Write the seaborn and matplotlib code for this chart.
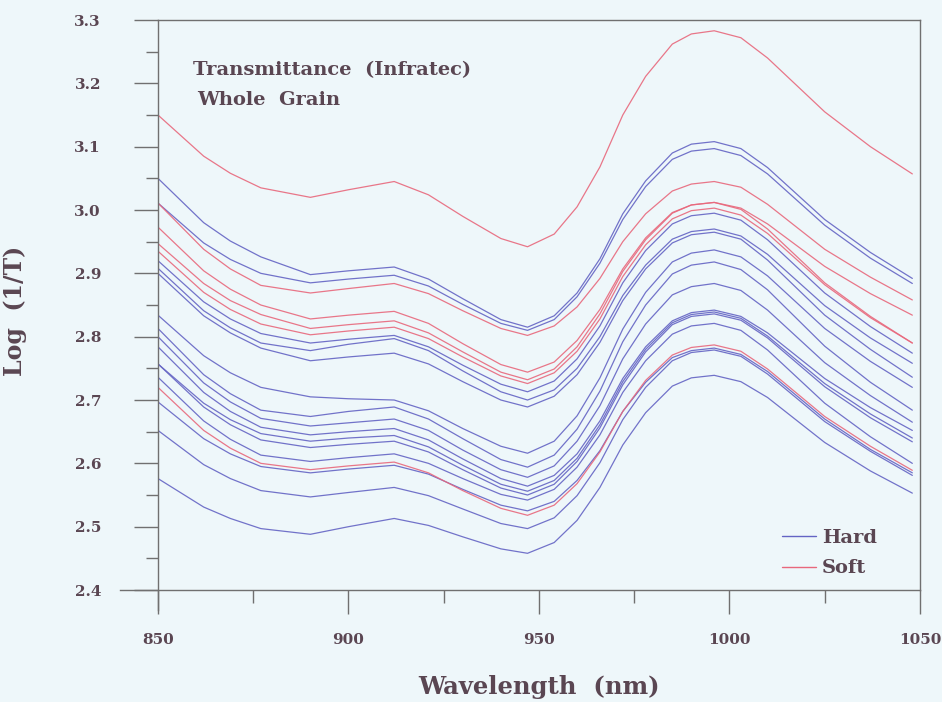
import numpy as np
import pandas as pd
import matplotlib
matplotlib.use("Agg")
import matplotlib.pyplot as plt
import seaborn as sns
from matplotlib.ticker import MultipleLocator, FormatStrFormatter
from matplotlib.lines import Line2D

# sampled wavelengths (nm)
wavelengths = [850, 862, 869, 877, 890, 900, 912, 921, 930, 940, 947, 954,
               960, 966, 972, 978, 985, 990, 996, 1003, 1010, 1025, 1037, 1048]

# Soft wheat spectra, log(1/T)
soft_1 = [3.150, 3.085, 3.058, 3.035, 3.020, 3.032, 3.045, 3.024, 2.990, 2.955, 2.942, 2.962,
          3.005, 3.068, 3.150, 3.211, 3.262, 3.278, 3.283, 3.272, 3.240, 3.155, 3.100, 3.057]
soft_2 = [3.011, 2.938, 2.907, 2.881, 2.869, 2.876, 2.884, 2.868, 2.841, 2.813, 2.802, 2.817,
          2.847, 2.892, 2.950, 2.994, 3.030, 3.041, 3.045, 3.036, 3.009, 2.938, 2.894, 2.858]
soft_3 = [2.973, 2.904, 2.875, 2.850, 2.828, 2.834, 2.840, 2.821, 2.789, 2.756, 2.744, 2.760,
          2.794, 2.843, 2.907, 2.956, 2.996, 3.008, 3.012, 3.003, 2.978, 2.911, 2.868, 2.834]
soft_4 = [2.947, 2.884, 2.857, 2.835, 2.813, 2.819, 2.825, 2.806, 2.776, 2.744, 2.732, 2.749,
          2.784, 2.836, 2.903, 2.953, 2.995, 3.008, 3.012, 3.001, 2.970, 2.885, 2.832, 2.790]
soft_5 = [2.935, 2.870, 2.843, 2.820, 2.803, 2.809, 2.815, 2.797, 2.768, 2.738, 2.726, 2.743,
          2.777, 2.828, 2.895, 2.945, 2.986, 2.999, 3.003, 2.992, 2.963, 2.882, 2.830, 2.790]
soft_6 = [2.720, 2.652, 2.624, 2.600, 2.590, 2.596, 2.602, 2.585, 2.557, 2.529, 2.518, 2.534,
          2.568, 2.618, 2.682, 2.731, 2.771, 2.783, 2.787, 2.777, 2.749, 2.674, 2.627, 2.589]

# Hard wheat spectra, log(1/T)
hard_1 = [3.050, 2.980, 2.951, 2.926, 2.898, 2.904, 2.910, 2.891, 2.860, 2.827, 2.815, 2.833,
          2.869, 2.923, 2.994, 3.046, 3.090, 3.104, 3.108, 3.097, 3.067, 2.985, 2.933, 2.892]
hard_2 = [3.011, 2.948, 2.922, 2.900, 2.885, 2.891, 2.897, 2.880, 2.851, 2.821, 2.810, 2.827,
          2.863, 2.916, 2.985, 3.037, 3.080, 3.093, 3.097, 3.086, 3.057, 2.976, 2.924, 2.884]
hard_3 = [2.920, 2.855, 2.828, 2.805, 2.790, 2.796, 2.802, 2.784, 2.755, 2.725, 2.713, 2.730,
          2.765, 2.817, 2.885, 2.936, 2.978, 2.991, 2.995, 2.984, 2.953, 2.869, 2.816, 2.774]
hard_4 = [2.908, 2.841, 2.814, 2.790, 2.778, 2.788, 2.797, 2.778, 2.746, 2.713, 2.700, 2.716,
          2.750, 2.800, 2.865, 2.913, 2.954, 2.966, 2.970, 2.959, 2.930, 2.849, 2.798, 2.758]
hard_5 = [2.900, 2.833, 2.806, 2.782, 2.762, 2.768, 2.774, 2.757, 2.729, 2.700, 2.689, 2.706,
          2.740, 2.791, 2.857, 2.907, 2.948, 2.961, 2.965, 2.954, 2.921, 2.834, 2.780, 2.736]
hard_6 = [2.834, 2.770, 2.743, 2.720, 2.705, 2.702, 2.700, 2.683, 2.655, 2.627, 2.616, 2.635,
          2.675, 2.735, 2.812, 2.870, 2.918, 2.932, 2.937, 2.926, 2.896, 2.813, 2.761, 2.720]
hard_7 = [2.813, 2.740, 2.710, 2.684, 2.674, 2.682, 2.689, 2.670, 2.639, 2.606, 2.594, 2.613,
          2.654, 2.714, 2.792, 2.850, 2.899, 2.913, 2.918, 2.906, 2.874, 2.785, 2.728, 2.684]
hard_8 = [2.800, 2.727, 2.697, 2.671, 2.659, 2.664, 2.670, 2.652, 2.621, 2.590, 2.578, 2.596,
          2.635, 2.691, 2.765, 2.820, 2.866, 2.879, 2.884, 2.873, 2.842, 2.759, 2.707, 2.665]
hard_9 = [2.784, 2.712, 2.682, 2.657, 2.645, 2.650, 2.655, 2.637, 2.607, 2.576, 2.564, 2.581,
          2.615, 2.667, 2.734, 2.784, 2.825, 2.838, 2.842, 2.832, 2.806, 2.734, 2.688, 2.652]
hard_10 = [2.757, 2.695, 2.669, 2.647, 2.635, 2.640, 2.644, 2.626, 2.597, 2.567, 2.556, 2.573,
           2.608, 2.661, 2.729, 2.780, 2.822, 2.835, 2.839, 2.829, 2.801, 2.726, 2.678, 2.640]
hard_11 = [2.757, 2.689, 2.661, 2.637, 2.625, 2.630, 2.635, 2.618, 2.590, 2.561, 2.550, 2.567,
           2.603, 2.656, 2.724, 2.776, 2.819, 2.832, 2.836, 2.826, 2.798, 2.721, 2.672, 2.634]
hard_12 = [2.736, 2.667, 2.638, 2.613, 2.603, 2.609, 2.615, 2.600, 2.576, 2.551, 2.542, 2.559,
           2.594, 2.645, 2.712, 2.762, 2.804, 2.817, 2.821, 2.810, 2.779, 2.695, 2.642, 2.600]
hard_13 = [2.697, 2.639, 2.615, 2.595, 2.585, 2.591, 2.597, 2.583, 2.559, 2.534, 2.525, 2.540,
           2.573, 2.620, 2.682, 2.728, 2.767, 2.778, 2.782, 2.772, 2.745, 2.670, 2.622, 2.585]
hard_14 = [2.652, 2.598, 2.576, 2.557, 2.547, 2.554, 2.562, 2.549, 2.528, 2.505, 2.497, 2.514,
           2.549, 2.601, 2.669, 2.720, 2.762, 2.775, 2.779, 2.769, 2.741, 2.666, 2.619, 2.581]
hard_15 = [2.576, 2.531, 2.513, 2.497, 2.488, 2.500, 2.513, 2.502, 2.484, 2.465, 2.458, 2.475,
           2.510, 2.562, 2.629, 2.680, 2.722, 2.735, 2.739, 2.729, 2.704, 2.633, 2.588, 2.553]

soft = [soft_1, soft_2, soft_3, soft_4, soft_5, soft_6]
hard = [hard_1, hard_2, hard_3, hard_4, hard_5, hard_6, hard_7, hard_8,
        hard_9, hard_10, hard_11, hard_12, hard_13, hard_14, hard_15]

rows = []
for kind, group in (('Hard', hard), ('Soft', soft)):
    for i, spec in enumerate(group):
        for wl, v in zip(wavelengths, spec):
            rows.append({'wavelength': wl, 'logT': v, 'sample': f'{kind}{i}', 'class': kind})
df = pd.DataFrame(rows)

BG = '#eef7fa'
TXT = '#5a4652'
AXC = '#707070'
HARD_C = '#6464c4'
SOFT_C = '#e8687c'

sns.set_style('ticks')
plt.rcParams['font.family'] = ['DejaVu Serif']

fig = plt.figure(figsize=(9.42, 7.02), dpi=100, facecolor=BG)
ax = fig.add_axes([0.1677, 0.1595, 0.8089, 0.812])
ax.set_facecolor(BG)

sns.lineplot(data=df, x='wavelength', y='logT', hue='class', units='sample',
             estimator=None, palette={'Hard': HARD_C, 'Soft': SOFT_C},
             linewidth=0.9, alpha=0.9, legend=False, ax=ax)

ax.set_xlim(850, 1050)
ax.set_ylim(2.4, 3.3)
ax.xaxis.set_major_locator(MultipleLocator(50))
ax.xaxis.set_minor_locator(MultipleLocator(25))
ax.yaxis.set_major_locator(MultipleLocator(0.1))
ax.yaxis.set_minor_locator(MultipleLocator(0.05))
ax.yaxis.set_major_formatter(FormatStrFormatter('%.1f'))
ax.tick_params(which='major', direction='out', length=17, width=1.0, color=AXC,
               labelsize=11, labelcolor=TXT)
ax.tick_params(which='minor', direction='out', length=9, width=1.0, color=AXC)
ax.tick_params(axis='x', which='major', pad=14)
ax.tick_params(axis='y', which='major', pad=24)
for lab in ax.get_xticklabels() + ax.get_yticklabels():
    lab.set_fontweight('bold')
for sp in ax.spines.values():
    sp.set_color(AXC)
    sp.set_linewidth(1.0)
# axis lines run slightly past the corner, as in the original plot
ax.spines['bottom'].set_bounds(840, 1050)
ax.spines['left'].set_bounds(2.368, 3.3)

ax.set_xlabel('Wavelength  (nm)', fontsize=17.5, fontweight='bold', color=TXT, labelpad=20)
ax.set_ylabel('Log  (1/T)', fontsize=17, fontweight='bold', color=TXT)
ax.yaxis.set_label_coords(-0.172, 0.49)

ax.text(0.046, 0.913, 'Transmittance  (Infratec)', transform=ax.transAxes,
        fontsize=14, fontweight='bold', color=TXT, va='center')
ax.text(0.051, 0.859, 'Whole  Grain', transform=ax.transAxes,
        fontsize=14, fontweight='bold', color=TXT, va='center')

handles = [Line2D([], [], color=HARD_C, lw=1.0), Line2D([], [], color=SOFT_C, lw=1.0)]
leg = ax.legend(handles, ['Hard', 'Soft'], loc='lower right', frameon=False,
                handlelength=1.75, handletextpad=0.3, labelspacing=0.64,
                borderpad=0, borderaxespad=0,
                prop={'weight': 'bold', 'size': 14}, bbox_to_anchor=(0.9436, 0.022))
for t in leg.get_texts():
    t.set_color(TXT)

fig.savefig('out.png', dpi=100, facecolor=BG)
